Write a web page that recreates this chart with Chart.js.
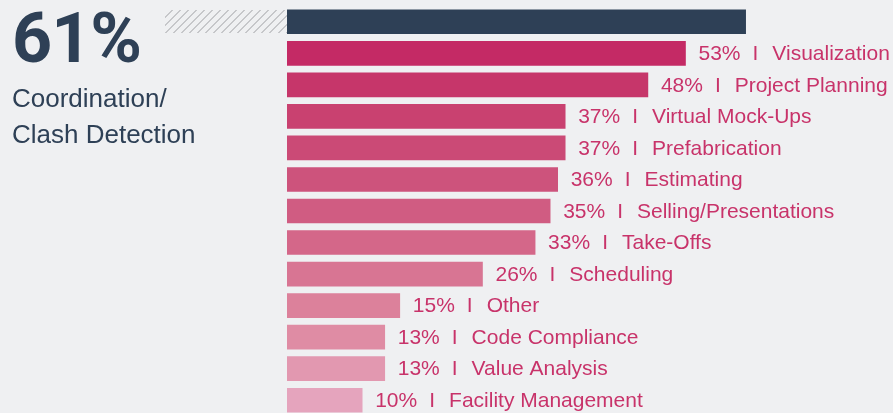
<!DOCTYPE html>
<html>
<head>
<meta charset="utf-8">
<script src="https://cdn.jsdelivr.net/npm/chart.js@4"></script>
<style>
  html, body { margin: 0; padding: 0; background: #eff0f2; overflow: hidden; }
  #wrap { position: relative; width: 893px; height: 420px; }
  #chart { position: absolute; left: 0; top: 0; }
  .big { position: absolute; left: 12px; top: -3px; font: bold 70px Roboto, sans-serif; color: #2e4056; letter-spacing: -1px; }
  .sub { position: absolute; left: 12px; top: 80px; font: 26px "Liberation Sans", Arial, sans-serif; line-height: 36px; color: #2e4056; }
  .hatch { position: absolute; left: 165px; top: 10px; width: 122px; height: 23px;
    background: repeating-linear-gradient(135deg, transparent 0 4.3px, #c6c7ca 4.3px 5.7px); }
</style>
</head>
<body>
<div id="wrap">
  <div class="hatch"></div>
  <canvas id="chart" width="893" height="420"></canvas>
  <div class="big">61%</div>
  <div class="sub">Coordination/<br>Clash Detection</div>
</div>
<script>
// usages BIM (%)
const categories = ['Coordination/Clash Detection', 'Visualization', 'Project Planning', 'Virtual Mock-Ups',
  'Prefabrication', 'Estimating', 'Selling/Presentations', 'Take-Offs', 'Scheduling', 'Other',
  'Code Compliance', 'Value Analysis', 'Facility Management'];
const values = [61, 53, 48, 37, 37, 36, 35, 33, 26, 15, 13, 13, 10];

// la premiere barre en bleu nuit, puis du rose fonce au rose clair
const barColors = ['#2e4056', '#c42a65', '#c6366a', '#c94170', '#cb4a76', '#cd537c', '#d05c82',
  '#d46789', '#d87593', '#dc819b', '#df8ca4', '#e298b0', '#e5a4bd'];

const valueLabels = {
  id: 'valueLabels',
  afterDatasetsDraw(chart) {
    const ctx = chart.ctx;
    const meta = chart.getDatasetMeta(0);
    ctx.save();
    ctx.font = '21px "Liberation Sans", Arial, sans-serif';
    ctx.fillStyle = '#c8336a';
    ctx.textBaseline = 'middle';
    meta.data.forEach((bar, i) => {
      if (i === 0) return; // la premiere est ecrite en grand a gauche
      const y = bar.y + 1;
      let x = bar.x + 13;
      const pct = values[i] + '%';
      ctx.fillText(pct, x, y);
      x += ctx.measureText(pct).width + 12;
      ctx.fillText('I', x, y);
      x += ctx.measureText('I').width + 14;
      ctx.fillText(categories[i], x, y);
    });
    ctx.restore();
  }
};

new Chart(document.getElementById('chart'), {
  type: 'bar',
  data: {
    labels: categories,
    datasets: [{
      data: values,
      backgroundColor: barColors,
      barThickness: 24
    }]
  },
  options: {
    indexAxis: 'y',
    responsive: false,
    animation: false,
    layout: { padding: { left: 287, top: 6, bottom: 4, right: 0 } },
    scales: {
      x: { min: 0, max: 80.6, display: false },
      y: { display: false }
    },
    plugins: { legend: { display: false }, tooltip: { enabled: false } }
  },
  plugins: [valueLabels]
});
</script>
</body>
</html>
